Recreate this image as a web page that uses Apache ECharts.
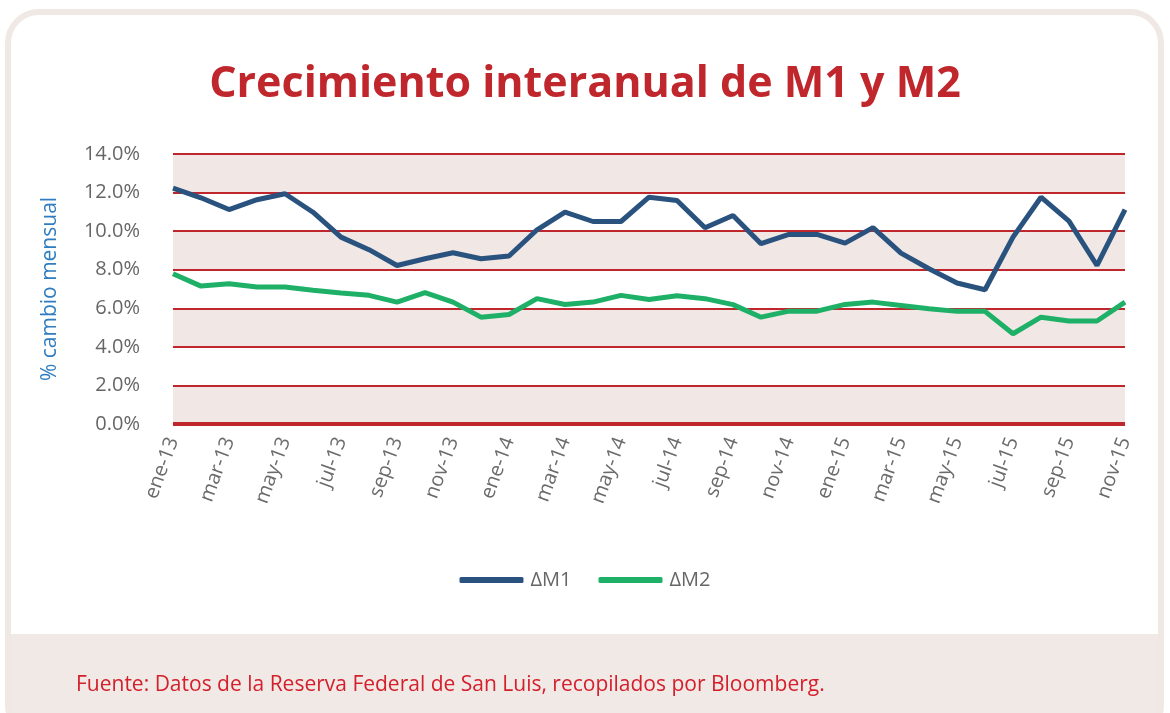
<!DOCTYPE html>
<html>
<head>
<meta charset="utf-8">
<script src="https://cdn.jsdelivr.net/npm/echarts@6/dist/echarts.min.js"></script>
<style>
html,body{margin:0;padding:0;background:#ffffff;}
#wrap{position:relative;width:1170px;height:713px;overflow:hidden;background:#fff;}
#card{position:absolute;left:5px;top:9px;width:1159px;height:730px;border:6px solid #f0e8e5;border-radius:34px;box-sizing:border-box;background:#fff;}
#band{position:absolute;left:11px;top:634px;width:1147px;height:100px;background:#f0e9e6;}
#chart{position:absolute;left:0;top:0;width:1170px;height:713px;}
</style>
</head>
<body>
<div id="wrap">
<div id="card"></div>
<div id="band"></div>
<div id="chart"></div>
</div>
<script>
const categories = [
 'ene-13','feb-13','mar-13','abr-13','may-13','jun-13','jul-13','ago-13','sep-13','oct-13','nov-13','dic-13',
 'ene-14','feb-14','mar-14','abr-14','may-14','jun-14','jul-14','ago-14','sep-14','oct-14','nov-14','dic-14',
 'ene-15','feb-15','mar-15','abr-15','may-15','jun-15','jul-15','ago-15','sep-15','oct-15','nov-15'
];
const m1 = [12.23,11.73,11.12,11.63,11.94,10.98,9.69,9.04,8.22,8.57,8.88,8.57,
            8.71,10.07,10.98,10.50,10.50,11.76,11.59,10.18,10.81,9.35,9.83,9.83,
            9.38,10.18,8.86,8.05,7.31,6.96,9.69,11.76,10.52,8.22,11.12];
const m2 = [7.79,7.15,7.27,7.10,7.10,6.93,6.79,6.67,6.32,6.81,6.32,5.54,
            5.68,6.50,6.20,6.32,6.67,6.46,6.65,6.50,6.19,5.54,5.85,5.85,
            6.20,6.32,6.15,5.98,5.84,5.84,4.68,5.54,5.34,5.34,6.32];
const seriesNames = ['\u0394M1','\u0394M2'];
const titleText = 'Crecimiento interanual de M1 y M2';
const sourceText = 'Fuente: Datos de la Reserva Federal de San Luis, recopilados por Bloomberg.';
const yAxisName = '% cambio mensual';

const chart = echarts.init(document.getElementById('chart'), null, {renderer:'canvas'});
chart.setOption({
  backgroundColor: 'transparent',
  animation: false,
  title: [
    {text: titleText, left: 'center', top: 58,
     textStyle:{fontFamily:'Open Sans', fontWeight:'bold', fontSize:43, color:'#c0272d'}},
    {text: sourceText, left: 71, top: 670,
     textStyle:{fontFamily:'Open Sans', fontWeight:'normal', fontSize:21, color:'#d4202c'}}
  ],
  legend: {
    data: seriesNames, top: 565, left: 'center', itemWidth: 64, itemHeight: 6, itemGap: 27,
    icon: 'roundRect',
    textStyle:{fontFamily:'Open Sans', fontSize:20, color:'#666666', padding:[0,0,0,2]}
  },
  grid: {left:173, right:45, top:154, bottom:289, containLabel:false},
  xAxis: {
    type:'category', data: categories, boundaryGap:false,
    axisLine:{show:false}, axisTick:{show:false},
    axisLabel:{interval:1, rotate:70, margin:14, fontFamily:'Open Sans', fontSize:20, color:'#6b6b6b'},
    splitLine:{show:false}
  },
  yAxis: {
    type:'value', min:0, max:14, interval:2,
    name: yAxisName, nameLocation:'middle', nameGap:112,
    nameTextStyle:{fontFamily:'Open Sans', fontSize:21, color:'#2f7dc0'},
    axisLine:{show:false}, axisTick:{show:false},
    axisLabel:{margin:33, fontFamily:'Open Sans', fontSize:20, color:'#666666',
      formatter: v => v.toFixed(1) + '%'},
    splitLine:{show:true, lineStyle:{color:'#c0272d', width:2}},
    splitArea:{show:true, areaStyle:{color:['#f1e8e5','#ffffff']}}
  },
  series: [
    {name: seriesNames[0], type:'line', data: m1, symbol:'none', lineStyle:{width:5, color:'#2a527e'}, itemStyle:{color:'#2a527e'}, z:3},
    {name: seriesNames[1], type:'line', data: m2, symbol:'none', lineStyle:{width:5, color:'#1fb068'}, itemStyle:{color:'#1fb068'}, z:2},
    {type:'line', data: categories.map(()=>0), symbol:'none', silent:true, lineStyle:{width:4, color:'#c0272d'}, z:1, legendHoverLink:false, tooltip:{show:false}}
  ]
});
</script>
</body>
</html>
